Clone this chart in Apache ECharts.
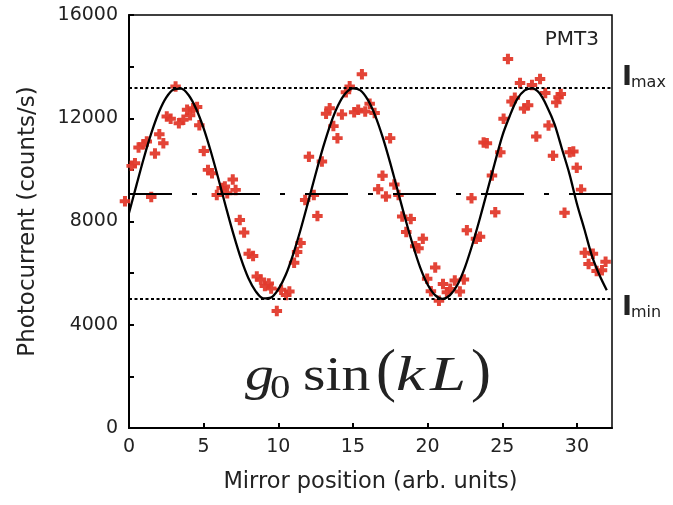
<!DOCTYPE html>
<html>
<head>
<meta charset="utf-8">
<script src="https://cdn.jsdelivr.net/npm/echarts@6/dist/echarts.min.js"></script>
<style>
  html, body { margin: 0; padding: 0; background: #fff; }
  #chart { width: 673px; height: 505px; }
</style>
</head>
<body>
<div id="chart"></div>
<script>
// Measured photocurrent at each mirror position
const pointX = [-0.27, 0.18, 0.40, 0.64, 0.96, 1.19, 1.49, 1.74, 2.03, 2.30, 2.53, 2.79, 3.12, 3.34, 3.64,
  3.89, 4.09, 4.29, 4.56, 4.71, 5.01, 5.29, 5.56, 5.88, 6.21, 6.42, 6.58, 6.95, 7.14, 7.42,
  7.71, 8.02, 8.31, 8.56, 8.83, 9.10, 9.36, 9.52, 9.90, 10.19, 10.52, 10.74, 11.06, 11.26, 11.49,
  11.80, 12.05, 12.38, 12.62, 12.92, 13.20, 13.44, 13.69, 13.96, 14.26, 14.53, 14.78, 15.08, 15.35, 15.60,
  15.82, 16.12, 16.45, 16.69, 16.98, 17.21, 17.49, 17.77, 18.05, 18.30, 18.57, 18.87, 19.17, 19.39, 19.68,
  19.97, 20.22, 20.51, 20.76, 21.03, 21.29, 21.51, 21.82, 22.16, 22.43, 22.63, 22.94, 23.24, 23.51, 23.75,
  23.97, 24.31, 24.53, 24.87, 25.09, 25.38, 25.62, 25.84, 26.19, 26.46, 26.73, 26.99, 27.28, 27.53, 27.88,
  28.10, 28.40, 28.62, 28.77, 28.92, 29.17, 29.52, 29.76, 29.99, 30.28, 30.53, 30.78, 31.07, 31.32, 31.68, 31.92];
const pointY = [8780, 10155, 10260, 10870, 10990, 11100, 8950, 10630, 11380, 11035, 12065, 11985, 13230, 11810, 11940,
  12325, 12115, 12385, 12440, 11725, 10735, 10000, 9870, 9030, 9300, 9360, 9090, 9630, 9225, 8060,
  7570, 6755, 6660, 5865, 5755, 5505, 5595, 5405, 4535, 5360, 5155, 5290, 6405, 6820, 7170,
  8835, 10505, 9030, 8215, 10320, 12170, 12390, 11695, 11230, 12150, 13005, 13235, 12230, 12325, 13700,
  12260, 12560, 12200, 9250, 9770, 8965, 11230, 9430, 9030, 8190, 7590, 8095, 7045, 6965, 7335,
  5785, 5300, 6220, 4930, 5575, 5260, 5390, 5715, 5285, 5755, 7665, 8905, 7335, 7410, 11060,
  11035, 9780, 8355, 10680, 11985, 14300, 12645, 12790, 13370, 12375, 12500, 13285, 11290, 13520, 12975,
  11715, 10550, 12615, 12810, 12935, 8335, 10685, 10710, 10080, 9235, 6785, 6350, 6755, 6085, 6115, 6445];

// Fitted sinusoid, sampled every half unit along the mirror axis
const fitX = [0, 0.5, 1, 1.5, 2, 2.5, 3, 3.5, 4, 4.5, 5, 5.5, 6, 6.5, 7, 7.5, 8, 8.5, 9, 9.5,
  10, 10.5, 11, 11.5, 12, 12.5, 13, 13.5, 14, 14.5, 15, 15.5, 16, 16.5, 17, 17.5, 18, 18.5, 19, 19.5,
  20, 20.5, 21, 21.5, 22, 22.5, 23, 23.5, 24, 24.5, 25, 25.5, 26, 26.5, 27, 27.5, 28, 28.5, 29, 29.5,
  30, 30.5, 31, 31.5, 32];
const fitY = [8330, 9410, 10470, 11430, 12230, 12805, 13120, 13145, 12890, 12360, 11610, 10675, 9630, 8545, 7500, 6560, 5800, 5285, 5020, 5050,
  5370, 5935, 6740, 7700, 8760, 9840, 10870, 11775, 12490, 12965, 13160, 13080, 12710, 12085, 11250, 10260, 9190, 8115, 7110, 6225,
  5560, 5145, 5000, 5145, 5550, 6225, 7110, 8115, 9190, 10265, 11310, 12085, 12740, 13080, 13160, 12965, 12450, 11775, 10810, 9845,
  8690, 7700, 6680, 5940, 5340];

// Reference levels
const levelMax = 13170;
const levelMid = 9080;
const levelMin = 5000;

// Axis ranges and tick steps
const xRange = [0, 32.35];
const xStep = 5;
const yRange = [0, 16000];
const yStep = 2000;
const yLabelStep = 4000;

const sans = 'DejaVu Sans';
const ink = '#222';
const red = '#e23a2c';
const plus = 'path://M3.1,0h3.8v3.1h3.1v3.8h-3.1v3.1h-3.8v-3.1h-3.1v-3.8h3.1z';

const chart = echarts.init(document.getElementById('chart'), null, { renderer: 'canvas' });

chart.setOption({
  animation: false,
  backgroundColor: '#fff',
  grid: { left: 129, top: 15, right: 61, bottom: 77, show: true, borderColor: '#000', borderWidth: 1.5 },
  xAxis: {
    type: 'value', min: xRange[0], max: xRange[1], interval: xStep,
    axisLine: { show: true, onZero: false, lineStyle: { color: '#000', width: 2 } },
    axisTick: { show: true, inside: true, length: 5, lineStyle: { color: '#000', width: 2 } },
    axisLabel: { color: ink, fontFamily: sans, fontSize: 19, margin: 10, showMaxLabel: false },
    splitLine: { show: false },
    name: 'Mirror position (arb. units)', nameLocation: 'middle', nameGap: 43,
    nameTextStyle: { color: ink, fontFamily: sans, fontSize: 22.5 }
  },
  yAxis: {
    type: 'value', min: yRange[0], max: yRange[1], interval: yStep,
    axisLine: { show: true, onZero: false, lineStyle: { color: '#000', width: 2 } },
    axisTick: { show: true, inside: true, length: 5, lineStyle: { color: '#000', width: 2 } },
    axisLabel: {
      color: ink, fontFamily: sans, fontSize: 19, margin: 11,
      formatter: v => (v % yLabelStep === 0 ? String(v) : '')
    },
    splitLine: { show: false },
    name: 'Photocurrent (counts/s)', nameLocation: 'middle', nameGap: 89, nameRotate: 90,
    nameTextStyle: { color: ink, fontFamily: sans, fontSize: 23 }
  },
  series: [
    {
      type: 'scatter',
      data: pointX.map((x, i) => [x, pointY[i]]),
      symbol: plus, symbolSize: 10.5,
      itemStyle: { color: red, opacity: 0.95 },
      clip: false, z: 3, silent: true
    },
    {
      type: 'line',
      data: fitX.map((x, i) => [x, fitY[i]]),
      smooth: 0.3, showSymbol: false, symbol: 'none',
      lineStyle: { color: '#000', width: 2.3 },
      z: 4, silent: true,
      markLine: {
        silent: true, symbol: 'none', animation: false,
        label: { show: false },
        data: [
          { yAxis: levelMax, lineStyle: { color: '#000', width: 1.8, type: [3, 2.5] } },
          { yAxis: levelMin, lineStyle: { color: '#000', width: 1.8, type: [3, 2.5] } },
          { yAxis: levelMid, lineStyle: { color: '#000', width: 2, type: [43, 20, 5, 20] } }
        ]
      }
    }
  ]
});

// Text annotations: detector name, level names and the formula
const yMaxPx = chart.convertToPixel({ yAxisIndex: 0 }, levelMax);
const yMinPx = chart.convertToPixel({ yAxisIndex: 0 }, levelMin);
const serif = '"Liberation Serif", "DejaVu Serif", serif';

function txt(x, y, text, font, align, extra) {
  return Object.assign({
    type: 'text', x: x, y: y, silent: true,
    style: { text: text, font: font, fill: ink, align: align || 'left', verticalAlign: 'middle' }
  }, extra || {});
}

const wide = { scaleX: 1.2 };
const wider = { scaleX: 1.35 };
chart.setOption({
  graphic: [
    txt(599, 40, 'PMT3', '20px "' + sans + '"', 'right'),
    txt(622, yMaxPx - 10, 'I', 'bold 27px "' + sans + '"'),
    txt(631, yMaxPx - 5, 'max', '16px "' + sans + '"'),
    txt(622, yMinPx + 9, 'I', 'bold 27px "' + sans + '"'),
    txt(631, yMinPx + 14, 'min', '16px "' + sans + '"'),
    txt(245, 377, 'g', 'italic 48px ' + serif, 'left', wide),
    txt(270, 389, '0', '34px ' + serif, 'left', wide),
    txt(303, 377, 'sin', '48px ' + serif, 'left', wide),
    txt(376, 374, '(', '60px ' + serif, 'left', { scaleX: 1.0 }),
    txt(396, 377, 'k', 'italic 48px ' + serif, 'left', wider),
    txt(430, 377, 'L', 'italic 48px ' + serif, 'left', wider),
    txt(471, 374, ')', '60px ' + serif, 'left', { scaleX: 1.0 })
  ]
});
</script>
</body>
</html>
